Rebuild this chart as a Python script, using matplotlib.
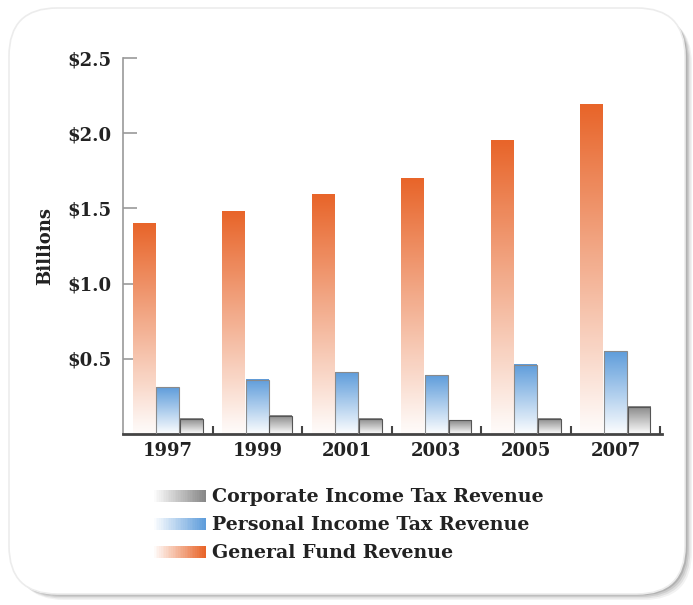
import matplotlib
matplotlib.use("Agg")
import matplotlib.pyplot as plt
import numpy as np
from matplotlib.patches import FancyBboxPatch, Rectangle
from matplotlib.legend_handler import HandlerBase
from matplotlib.colors import LinearSegmentedColormap, to_rgb

years = ["1997", "1999", "2001", "2003", "2005", "2007"]
general_fund = [1.40, 1.48, 1.59, 1.70, 1.95, 2.19]
personal_tax = [0.31, 0.36, 0.41, 0.39, 0.46, 0.55]
corporate_tax = [0.10, 0.12, 0.10, 0.09, 0.10, 0.18]
y_ticks = [0.5, 1.0, 1.5, 2.0, 2.5]
y_labels = ["$0.5", "$1.0", "$1.5", "$2.0", "$2.5"]

orange = "#e8652a"
blue = "#5f9ddb"
gray = "#888888"

plt.rcParams["font.family"] = ["DejaVu Serif"]
plt.rcParams["font.weight"] = "bold"
fs = 13

fig = plt.figure(figsize=(6.93, 6.05), dpi=100)

# background panel with soft shadow (pixel units)
bg = fig.add_axes([0, 0, 1, 1], zorder=-10)
bg.set_xlim(0, 693)
bg.set_ylim(605, 0)
bg.axis("off")
for i, a in enumerate([0.05, 0.07, 0.09, 0.12]):
    d = 6 - i * 1.5
    bg.add_patch(FancyBboxPatch((10 + d, 10 + d), 676, 584,
                                boxstyle="round,pad=0,rounding_size=48",
                                fc="#000000", ec="none", alpha=a))
bg.add_patch(FancyBboxPatch((9, 8), 676, 586,
                            boxstyle="round,pad=0,rounding_size=48",
                            fc="white", ec="#ececec", lw=1.2))

ax = fig.add_axes([123 / 693, 1 - 434 / 605, (662 - 123) / 693, (434 - 58) / 605])
ax.patch.set_alpha(0)

x = np.arange(len(years))
w = 0.255
series = [(general_fund, orange, -0.263, "none"),
          (personal_tax, blue, 0.0, "#8a8a8a"),
          (corporate_tax, gray, 0.263, "#555555")]

for vals, col, off, edge in series:
    bars = ax.bar(x + off, vals, w, color="none", edgecolor=edge, lw=0.8, zorder=3)
    cmap = LinearSegmentedColormap.from_list("g", ["#ffffff", col])
    grad = np.linspace(1, 0.02, 256).reshape(-1, 1)
    for b in bars:
        bx, by = b.get_x(), b.get_y()
        ax.imshow(grad, cmap=cmap, vmin=0, vmax=1, aspect="auto",
                  extent=[bx, bx + b.get_width(), by, by + b.get_height()],
                  zorder=2, interpolation="bilinear")

ax.set_xlim(-0.5, 5.52)
ax.set_ylim(0, 2.5)

for s in ["top", "right"]:
    ax.spines[s].set_visible(False)
ax.spines["left"].set_color("#999999")
ax.spines["left"].set_linewidth(1.2)
ax.spines["bottom"].set_color("#444444")
ax.spines["bottom"].set_linewidth(2)

ax.set_yticks(y_ticks)
ax.set_yticklabels(y_labels, fontsize=fs, fontweight="bold", color="#222222")
ax.tick_params(axis="y", direction="in", length=10, width=1.2, color="#999999", pad=8)

ax.set_xticks(x)
ax.set_xticklabels(years, fontsize=fs, fontweight="bold", color="#222222")
ax.tick_params(axis="x", which="major", length=0, pad=6)
ax.set_xticks(np.arange(0.5, 6, 1), minor=True)
ax.tick_params(axis="x", which="minor", direction="in", length=6, width=1.5, color="#444444")

ax.set_ylabel("Billions", fontsize=fs, fontweight="bold", color="#222222", labelpad=10)


class GradHandler(HandlerBase):
    def __init__(self, col):
        super().__init__()
        self.col = np.array(to_rgb(col))

    def create_artists(self, legend, orig_handle, xdescent, ydescent, width, height, fontsize, trans):
        arts = []
        n = 30
        for i in range(n):
            t = (i + 1) / n
            c = (1 - t) * np.ones(3) + t * self.col
            arts.append(Rectangle((-xdescent + width * i / n, -ydescent + height * 0.05),
                                  width / n + 0.3, height * 0.8, fc=c, ec="none",
                                  transform=trans))
        return arts


h_corp = Rectangle((0, 0), 1, 1)
h_pers = Rectangle((0, 0), 1, 1)
h_gen = Rectangle((0, 0), 1, 1)
leg = fig.legend([h_corp, h_pers, h_gen],
                 ["Corporate Income Tax Revenue", "Personal Income Tax Revenue", "General Fund Revenue"],
                 handler_map={h_corp: GradHandler(gray), h_pers: GradHandler(blue), h_gen: GradHandler(orange)},
                 loc="upper left", bbox_to_anchor=(154 / 693, 1 - 488 / 605),
                 frameon=False, fontsize=13.7, handlelength=2.7, handleheight=0.85,
                 handletextpad=0.35, labelspacing=0.5, borderpad=0, borderaxespad=0)
for t in leg.get_texts():
    t.set_color("#222222")
    t.set_fontweight("bold")

fig.savefig("out.png", dpi=100)
